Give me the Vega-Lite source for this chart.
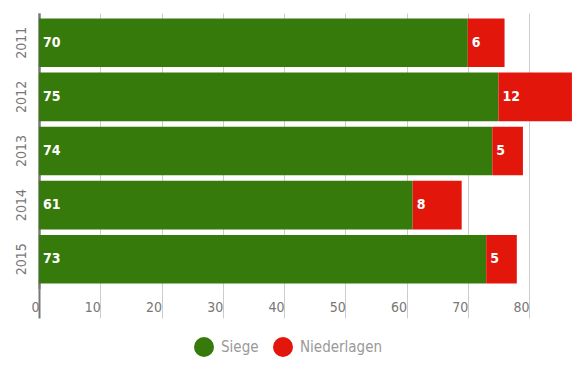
{
  "$schema": "https://vega.github.io/schema/vega-lite/v6.json",
  "autosize": "none",
  "width": 536,
  "height": 276,
  "padding": {"left": 39, "top": 13, "right": 7, "bottom": 77},
  "background": "white",
  "config": {
    "view": {"stroke": null},
    "font": "DejaVu Sans Condensed, sans-serif"
  },
  "data": {
    "values": [
      {"year": "2011", "type": "Siege", "value": 70, "order": 1},
      {"year": "2011", "type": "Niederlagen", "value": 6, "order": 2},
      {"year": "2012", "type": "Siege", "value": 75, "order": 1},
      {"year": "2012", "type": "Niederlagen", "value": 12, "order": 2},
      {"year": "2013", "type": "Siege", "value": 74, "order": 1},
      {"year": "2013", "type": "Niederlagen", "value": 5, "order": 2},
      {"year": "2014", "type": "Siege", "value": 61, "order": 1},
      {"year": "2014", "type": "Niederlagen", "value": 8, "order": 2},
      {"year": "2015", "type": "Siege", "value": 73, "order": 1},
      {"year": "2015", "type": "Niederlagen", "value": 5, "order": 2}
    ]
  },
  "transform": [
    {"stack": "value", "groupby": ["year"], "sort": [{"field": "order", "order": "ascending"}], "as": ["start", "end"]}
  ],
  "encoding": {
    "y": {
      "field": "year", "type": "ordinal",
      "scale": {"paddingInner": 0.1, "paddingOuter": 0.1},
      "axis": {
        "title": null, "ticks": false, "labelAngle": -90, "labelAlign": "center", "labelBaseline": "bottom",
        "labelPadding": 11, "labelFontSize": 14, "labelColor": "#777777",
        "domainColor": "#777777", "domainWidth": 2
      }
    }
  },
  "layer": [
    {
      "mark": {"type": "bar"},
      "encoding": {
        "x": {
          "field": "start", "type": "quantitative",
          "scale": {"domain": [0, 87.5], "nice": false},
          "axis": {
            "title": null, "values": [0, 10, 20, 30, 40, 50, 60, 70, 80],
            "domain": false, "grid": true,
            "gridColor": {"condition": {"test": "datum.value === 0", "value": "#777777"}, "value": "#cccccc"},
            "gridWidth": {"condition": {"test": "datum.value === 0", "value": 2}, "value": 1},
            "tickColor": {"condition": {"test": "datum.value === 0", "value": "#777777"}, "value": "#cccccc"},
            "tickWidth": {"condition": {"test": "datum.value === 0", "value": 2}, "value": 1},
            "tickSize": 29, "labelPadding": -18, "labelBaseline": "top", "labelAlign": "right", "labelDx": -4,
            "labelFontSize": 14, "labelColor": "#777777", "labelFlush": false
          }
        },
        "x2": {"field": "end"},
        "color": {
          "field": "type", "type": "nominal",
          "scale": {"domain": ["Siege", "Niederlagen"], "range": ["#367a0c", "#e3160b"]},
          "legend": {
            "title": null, "orient": "none", "legendX": 155, "legendY": 324, "padding": 0,
            "direction": "horizontal", "symbolType": "circle",
            "symbolSize": 400, "labelFontSize": 15, "labelColor": "#999999",
            "symbolStrokeWidth": 0, "columnPadding": 14, "labelOffset": 7
          }
        }
      }
    },
    {
      "mark": {"type": "text", "align": "left", "baseline": "middle", "dx": 4, "color": "white", "fontSize": 14, "fontWeight": 600},
      "encoding": {
        "x": {"field": "start", "type": "quantitative"},
        "text": {"field": "value", "type": "quantitative"}
      }
    }
  ]
}
